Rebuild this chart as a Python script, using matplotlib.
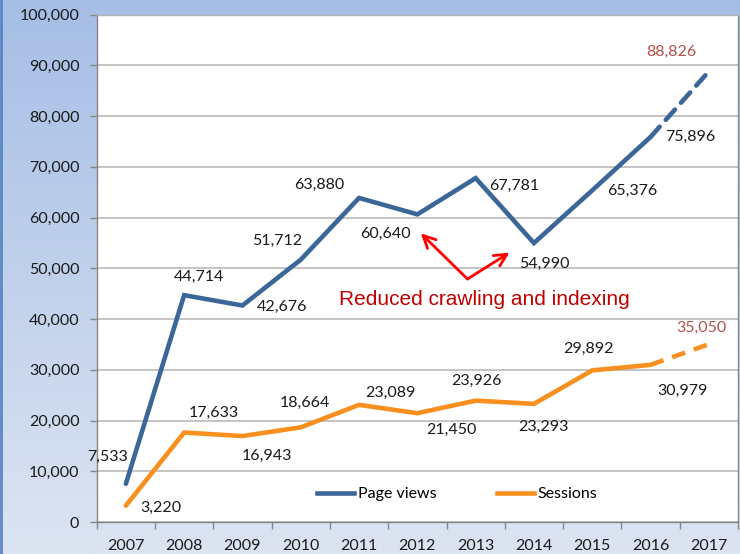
import numpy as np
import matplotlib
matplotlib.use("Agg")
import matplotlib.pyplot as plt
from matplotlib.lines import Line2D

# ---------------- data ----------------
years = ["2007", "2008", "2009", "2010", "2011", "2012", "2013", "2014", "2015", "2016", "2017"]
page_views = [7533, 44714, 42676, 51712, 63880, 60640, 67781, 54990, 65376, 75896, 88826]
sessions = [3220, 17633, 16943, 18664, 23089, 21450, 23926, 23293, 29892, 30979, 35050]
y_ticks = [0, 10000, 20000, 30000, 40000, 50000, 60000, 70000, 80000, 90000, 100000]
annotation_text = "Reduced crawling and indexing"
legend_labels = ["Page views", "Sessions"]

# ---------------- style / layout ----------------
BLUE = "#3B6698"
ORANGE = "#F8901F"
PROJ = "#B5504E"
LABEL_FONT = ["Lato", "DejaVu Sans"]
FS = 11.5

# label offsets in pixels (dx right, dy down)
pv_offsets = [(-18, -27), (15, -18), (40, 1), (-24, -19), (-40, -13), (-32, 20),
              (39, 8), (10, 21), (40, 1), (40, 0), (-37, -19)]
ss_offsets = [(35, 2), (30, -20), (24, 20), (4, -24), (31, -12), (34, 17),
              (1, -20), (9, 23), (-4, -21), (32, 26), (-7, -16)]

fig = plt.figure(figsize=(7.4, 5.54), dpi=100)

# gradient background
bg = fig.add_axes([0, 0, 1, 1], zorder=-10)
grad = np.linspace(0, 1, 256).reshape(-1, 1)
top = np.array([0xA6, 0xBE, 0xE5]) / 255
bot = np.array([0xDC, 0xE4, 0xF2]) / 255
img = top[None, None, :] * (1 - grad[:, :, None]) + bot[None, None, :] * grad[:, :, None]
bg.imshow(img, aspect="auto", extent=[0, 1, 0, 1])
bg.plot([0.0015, 0.0015], [0, 1], color="#5B87C5", lw=2)
bg.set_xlim(0, 1)
bg.set_ylim(0, 1)
bg.axis("off")

W, H = 740, 554
ax = fig.add_axes([96.7 / W, 1 - 522 / H, (738 - 96.7) / W, (522 - 14.7) / H])
ax.set_facecolor("white")

x = np.arange(len(years))
n = len(years)

# lines: solid up to 2016, dashed projection to 2017
ax.plot(x[:n - 1], page_views[:n - 1], color=BLUE, lw=3.3, solid_capstyle="round",
        solid_joinstyle="miter", zorder=3)
ax.plot(x[n - 2:], page_views[n - 2:], color=BLUE, lw=3.3, dashes=(3.0, 2.0),
        dash_capstyle="round", zorder=3)
ax.plot(x[:n - 1], sessions[:n - 1], color=ORANGE, lw=3.3, solid_capstyle="round",
        solid_joinstyle="miter", zorder=3)
ax.plot(x[n - 2:], sessions[n - 2:], color=ORANGE, lw=3.3, dashes=(3.0, 2.0),
        dash_capstyle="butt", zorder=3)

# data labels
for i, (v, off) in enumerate(zip(page_views, pv_offsets)):
    c = PROJ if i == n - 1 else "#1A1A1A"
    ax.annotate(f"{v:,}", (x[i], v), xytext=(off[0], -off[1]), textcoords="offset pixels",
                ha="center", va="center", fontsize=FS, family=LABEL_FONT, color=c, zorder=4)
for i, (v, off) in enumerate(zip(sessions, ss_offsets)):
    c = PROJ if i == n - 1 else "#1A1A1A"
    ax.annotate(f"{v:,}", (x[i], v), xytext=(off[0], -off[1]), textcoords="offset pixels",
                ha="center", va="center", fontsize=FS, family=LABEL_FONT, color=c, zorder=4)

# annotation arrows & text
vertex = (5.86, 47900)
for tip in [(5.06, 56900), (6.58, 53100)]:
    ax.annotate("", xy=tip, xytext=vertex,
                arrowprops=dict(arrowstyle="->", color="#FF0000", lw=2,
                                mutation_scale=22, shrinkA=0, shrinkB=0), zorder=5)
ax.text(6.15, 43900, annotation_text, ha="center", va="center", fontsize=15,
        family=["Liberation Sans", "DejaVu Sans"], color="#C00000", zorder=5)

# axes
ax.set_xlim(-0.5, n - 0.5)
ax.set_ylim(0, 100000)
ax.set_yticks(y_ticks)
ax.set_yticklabels([f"{t:,}" for t in y_ticks], fontsize=FS, family=LABEL_FONT, color="#1A1A1A")
ax.set_xticks(x)
ax.set_xticklabels(years, fontsize=FS, family=LABEL_FONT, color="#1A1A1A")
ax.set_xticks(np.arange(-0.5, n, 1.0), minor=True)
ax.tick_params(axis="x", which="major", length=0, pad=12.5)
ax.tick_params(axis="x", which="minor", length=5, color="#868686", width=1)
ax.tick_params(axis="y", which="major", length=5, color="#868686", width=1, pad=7.5)
ax.grid(axis="y", color="#B4B4B4", lw=1.1, zorder=0)
ax.set_axisbelow(True)
for s in ["left", "bottom", "right", "top"]:
    ax.spines[s].set_color("#868686")
    ax.spines[s].set_linewidth(1)
ax.spines["top"].set_color("#B4B4B4")

# legend
handles = [Line2D([0], [0], color=BLUE, lw=3.3), Line2D([0], [0], color=ORANGE, lw=3.3)]
fig.legend(handles, legend_labels, loc="center", bbox_to_anchor=(457.4 / W, 1 - 494 / H),
           ncol=2, frameon=False, handlelength=2.3, handletextpad=0.25, columnspacing=3.8,
           prop={"family": LABEL_FONT, "size": FS})

fig.savefig("out.png", dpi=100)
